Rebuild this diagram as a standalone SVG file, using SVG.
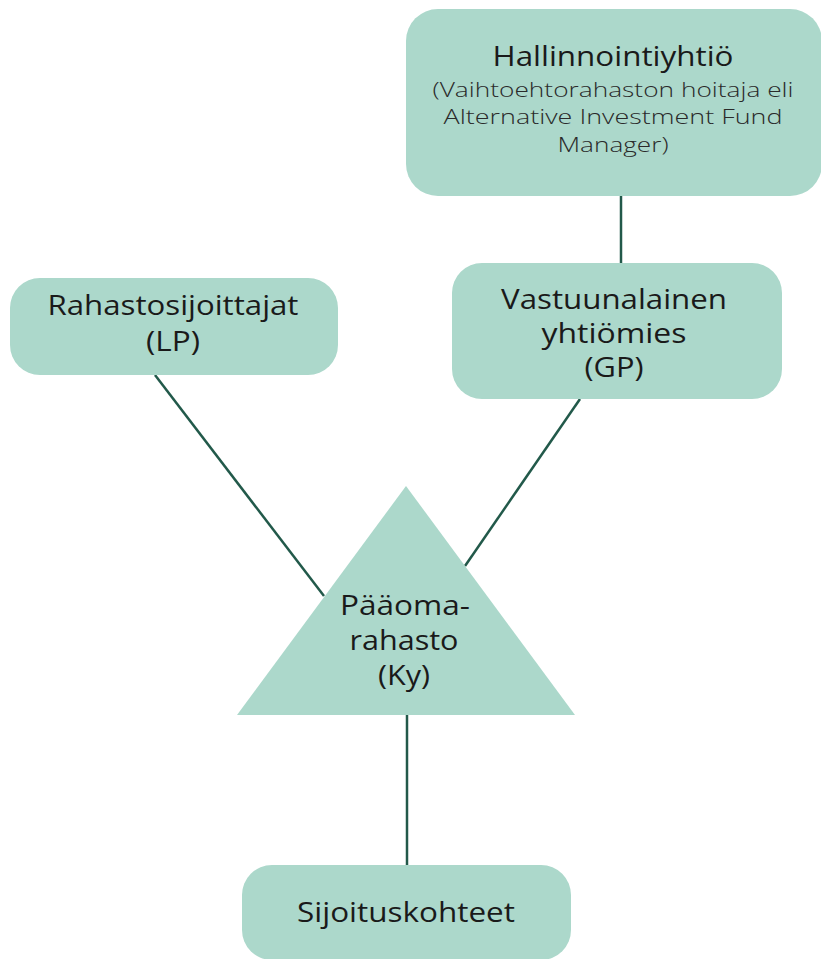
<svg xmlns="http://www.w3.org/2000/svg" width="821" height="959" viewBox="0 0 821 959">
<style>
.box{fill:#acd8cb}
.conn{stroke:#22594a;stroke-width:2.5;fill:none}
text{font-family:"Open Sans","Noto Sans","Liberation Sans",sans-serif;fill:#1a1a1a;text-anchor:middle;font-size:27px}
.sub{font-size:21px;font-weight:300;fill:#2a2a2a}
</style>
<rect width="821" height="959" fill="#ffffff"/>
<g id="connectors">
<line class="conn" x1="621" y1="196" x2="621" y2="264"/>
<line class="conn" x1="155" y1="375" x2="324" y2="596"/>
<line class="conn" x1="580" y1="399" x2="465" y2="566"/>
<line class="conn" x1="407" y1="714" x2="407" y2="866"/>
</g>
<g id="hallinnointiyhtio">
<rect class="box" x="406" y="9" width="416" height="187" rx="32"/>
<text x="613" y="66" textLength="241" lengthAdjust="spacingAndGlyphs">Hallinnointiyhtiö</text>
<text class="sub" x="613" y="97" textLength="361" lengthAdjust="spacingAndGlyphs">(Vaihtoehtorahaston hoitaja eli</text>
<text class="sub" x="613" y="124" textLength="339" lengthAdjust="spacingAndGlyphs">Alternative Investment Fund</text>
<text class="sub" x="613" y="152" textLength="111" lengthAdjust="spacingAndGlyphs">Manager)</text>
</g>
<g id="lp">
<rect class="box" x="10" y="278" width="328" height="97" rx="30"/>
<text x="173" y="315" textLength="251" lengthAdjust="spacingAndGlyphs">Rahastosijoittajat</text>
<text x="173" y="351" textLength="54" lengthAdjust="spacingAndGlyphs">(LP)</text>
</g>
<g id="gp">
<rect class="box" x="452" y="263" width="330" height="136" rx="30"/>
<text x="614" y="309" textLength="226" lengthAdjust="spacingAndGlyphs">Vastuunalainen</text>
<text x="614" y="343" textLength="145" lengthAdjust="spacingAndGlyphs">yhtiömies</text>
<text x="614" y="377" textLength="59" lengthAdjust="spacingAndGlyphs">(GP)</text>
</g>
<g id="paaomarahasto">
<polygon class="box" points="406,486 237,715 575,715"/>
<text x="405" y="615" textLength="130" lengthAdjust="spacingAndGlyphs">Pääoma-</text>
<text x="404" y="650" textLength="109" lengthAdjust="spacingAndGlyphs">rahasto</text>
<text x="404" y="685" textLength="52" lengthAdjust="spacingAndGlyphs">(Ky)</text>
</g>
<g id="sijoituskohteet">
<rect class="box" x="242" y="865" width="329" height="95" rx="30"/>
<text x="406" y="922" textLength="218" lengthAdjust="spacingAndGlyphs">Sijoituskohteet</text>
</g>
</svg>
